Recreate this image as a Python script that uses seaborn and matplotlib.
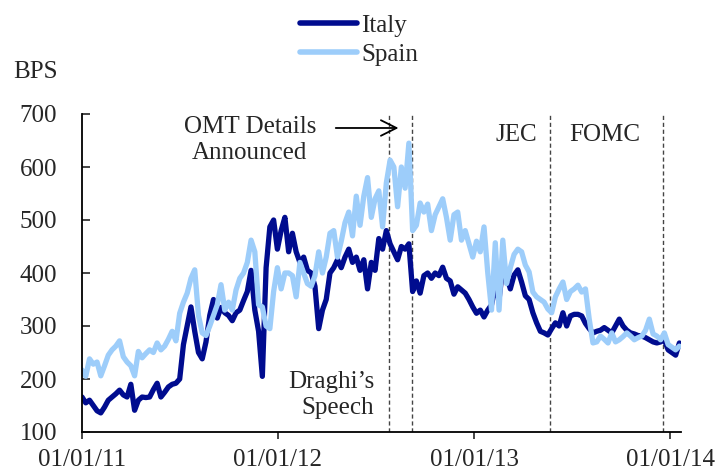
import pandas as pd
import seaborn as sns
import matplotlib.pyplot as plt
import matplotlib.dates as mdates

# weekly spread readings (bps), starting 01/01/11
italy = [166, 155, 160, 150, 140, 136, 147, 160, 166, 172,
         179, 170, 166, 190, 141, 160, 166, 165, 166, 180,
         192, 166, 175, 185, 190, 192, 200, 265, 300, 336,
         290, 250, 238, 270, 320, 350, 315, 335, 325, 320,
         310, 325, 330, 348, 365, 405, 330, 290, 205, 410,
         487, 500, 445, 480, 505, 440, 475, 440, 420, 430,
         405, 400, 375, 295, 330, 350, 400, 410, 425, 410,
         430, 445, 420, 430, 405, 425, 370, 420, 405, 465,
         445, 480, 455, 440, 425, 450, 445, 455, 365, 385,
         362, 395, 400, 390, 400, 395, 411, 390, 385, 360,
         374, 368, 362, 350, 336, 324, 330, 317, 330, 340,
         374, 350, 411, 395, 370, 396, 406, 383, 357, 350,
         325, 306, 290, 287, 283, 295, 306, 300, 325, 300,
         319, 322, 322, 319, 305, 295, 287, 290, 292, 297,
         292, 287, 300, 313, 300, 292, 287, 285, 282, 281,
         278, 274, 270, 268, 270, 274, 255, 250, 245, 268]

spain = [217, 205, 238, 228, 232, 206, 225, 245, 255, 262,
         272, 242, 232, 225, 206, 252, 240, 248, 255, 250,
         268, 255, 262, 275, 290, 272, 324, 345, 362, 390,
         406, 320, 287, 282, 300, 320, 340, 378, 330, 345,
         330, 368, 390, 400, 420, 462, 440, 340, 336, 300,
         295, 365, 410, 370, 400, 400, 395, 355, 420, 400,
         380, 375, 395, 440, 400, 430, 475, 480, 430, 460,
         495, 515, 470, 545, 490, 545, 580, 505, 540, 555,
         487, 570, 613, 600, 525, 600, 560, 645, 480, 490,
         532, 515, 530, 480, 510, 525, 540, 505, 462, 510,
         515, 462, 480, 455, 430, 460, 440, 487, 400, 330,
         457, 330, 462, 380, 410, 435, 445, 440, 415, 402,
         364, 355, 350, 345, 332, 325, 355, 370, 383, 350,
         365, 370, 377, 364, 370, 313, 268, 270, 281, 275,
         268, 287, 270, 274, 280, 287, 281, 274, 278, 281,
         292, 313, 285, 281, 274, 287, 265, 260, 255, 262]

dates = pd.date_range("2011-01-01", periods=len(italy), freq="7D")

event_dates = pd.to_datetime(["2012-07-26", "2012-09-06", "2013-05-22", "2013-12-18"])
year_ticks = pd.to_datetime(["2011-01-01", "2012-01-01", "2013-01-01", "2014-01-01"])
y_ticks = [100, 200, 300, 400, 500, 600, 700]

df = pd.DataFrame({"date": dates, "Italy": italy, "Spain": spain})
df = df.melt("date", var_name="country", value_name="bps")

sns.set_style("ticks")
plt.rcParams["font.family"] = ["Liberation Serif", "DejaVu Serif"]
plt.rcParams["font.size"] = 18

fig = plt.figure(figsize=(7.28, 4.76), dpi=100)
ax = fig.add_axes([82 / 728, 44 / 476, 599 / 728, 318 / 476])

sns.lineplot(data=df, x="date", y="bps", hue="country",
             palette={"Italy": "#000c8f", "Spain": "#9dcdfa"},
             linewidth=3.8, ax=ax)
for ln in ax.get_lines():
    ln.set_solid_joinstyle("round")

for d in event_dates:
    ax.axvline(d, color="#444444", lw=1, ls=(0, (3, 2)), zorder=0)

ax.set_ylim(100, 700)
ax.set_yticks(y_ticks)
ax.set_xlim(pd.Timestamp("2011-01-01"), pd.Timestamp("2014-01-21"))
ax.set_xticks(year_ticks)
ax.xaxis.set_major_formatter(mdates.DateFormatter("%m/%d/%y"))
ax.set_xlabel("")
ax.set_ylabel("")

ax.tick_params(axis="y", direction="in", length=6, width=1.2, pad=18, labelsize=18)
ax.tick_params(axis="x", direction="out", length=5, width=1.2, pad=7, labelsize=18)
sns.despine(ax=ax)
for s in ["left", "bottom"]:
    ax.spines[s].set_linewidth(1.3)
    ax.spines[s].set_color("black")

sns.move_legend(ax, "center", bbox_to_anchor=(0.4624, 1.233), frameon=False,
                title=None, handlelength=2.3, handletextpad=0.15,
                labelspacing=0.25, fontsize=18)
for h in ax.get_legend().get_lines():
    h.set_linewidth(4)
    h.set_solid_capstyle("round")

fig.text(35 / 728, 1 - 72 / 476, "BPS", ha="center", va="center", fontsize=18)

ax.text(0.280, 0.918, "OMT Details\nAnnounced", transform=ax.transAxes,
        ha="center", va="center", linespacing=1.25)
ax.annotate("", xy=(0.533, 0.956), xytext=(0.419, 0.956),
            xycoords="axes fraction",
            arrowprops=dict(arrowstyle="->", lw=1.3, color="black", mutation_scale=28))
ax.text(0.4875, 0.116, "Draghi\u2019s\nSpeech", transform=ax.transAxes,
        ha="right", va="center", multialignment="right", linespacing=1.25)
ax.text(0.7245, 0.934, "JEC", transform=ax.transAxes, ha="center", va="center")
ax.text(0.873, 0.934, "FOMC", transform=ax.transAxes, ha="center", va="center")

fig.savefig("out.png", dpi=100)
